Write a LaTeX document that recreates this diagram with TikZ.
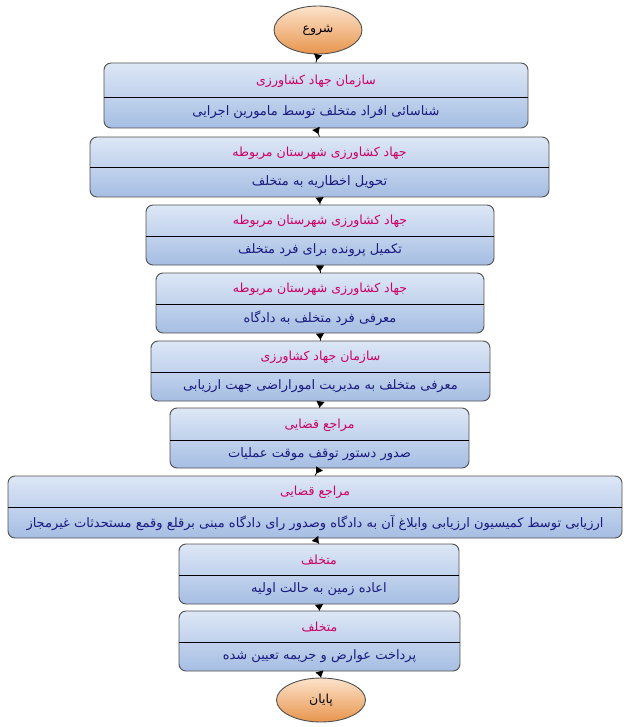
\documentclass[tikz,border=0pt]{standalone}
\usepackage{fontspec}
\usetikzlibrary{shapes.geometric,arrows.meta}
\TeXXeTstate=1
\newfontfamily\fa[Script=Arabic]{DejaVu Sans}
\definecolor{boxtop}{HTML}{DDE7F6}
\definecolor{boxbot}{HTML}{A6BEE3}
\definecolor{ttl}{HTML}{CC0066}
\definecolor{bdy}{HTML}{1A1A80}
\definecolor{ovtop}{HTML}{FCE3CB}
\definecolor{ovbot}{HTML}{E8954E}
\definecolor{edge}{HTML}{505050}
\tikzset{
  fbox/.style={draw=edge, line width=0.9pt, rounded corners=7pt, top color=boxtop, bottom color=boxbot, inner sep=0pt},
  oval/.style={ellipse, draw=edge, line width=0.9pt, top color=ovtop, bottom color=ovbot, inner sep=0pt, font=\fa\fontsize{12.5}{14}\selectfont},
  ttltext/.style={text=ttl, font=\fa\fontsize{12.5}{14}\selectfont, inner sep=0pt},
  bdytext/.style={text=bdy, font=\fa\fontsize{13}{15}\selectfont, inner sep=0pt},
  conn/.style={{Triangle[reversed,length=6pt,width=8pt]}-, line width=0.8pt, black},
}
% name, x1, y1, x2, y2, ydiv, title, body
\newcommand\flowbox[8]{%
  \node[fbox, minimum width={(#4-#2)*1pt}, minimum height={(#5-#3)*1pt}] (#1) at ({(#2+#4)/2},{(#3+#5)/2}) {};
  \draw[line width=0.8pt] ({#2},{#6}) -- ({#4},{#6});
  \node[ttltext] (#1t) at ({(#2+#4)/2},{(#3+#6)/2+1}) {#7};
  \node[bdytext] (#1b) at ({(#2+#4)/2},{(#6+#5)/2}) {#8};
}
\begin{document}
\begin{tikzpicture}[x=1pt,y=-1pt]
\useasboundingbox (0,0) rectangle (630,727);
\fill[white] (0,0) rectangle (630,727);
\node[oval, minimum width=88pt, minimum height=48pt] (start) at (318,30) {\beginR شروع\endR};
\flowbox{b1}{104}{63}{528}{128}{97}{\beginR سازمان جهاد کشاورزی\endR}{\beginR شناسائی افراد متخلف توسط مامورین اجرایی\endR}
\flowbox{b2}{90}{137}{549}{197}{167}{\beginR جهاد کشاورزی شهرستان مربوطه\endR}{\beginR تحویل اخطاریه به متخلف\endR}
\flowbox{b3}{146}{205}{494}{265}{236}{\beginR جهاد کشاورزی شهرستان مربوطه\endR}{\beginR تکمیل پرونده برای فرد متخلف\endR}
\flowbox{b4}{156}{273}{484}{333}{304}{\beginR جهاد کشاورزی شهرستان مربوطه\endR}{\beginR معرفی فرد متخلف به دادگاه\endR}
\flowbox{b5}{151}{341}{490}{401}{372}{\beginR سازمان جهاد کشاورزی\endR}{\beginR معرفی متخلف به مدیریت اموراراضی جهت ارزیابی\endR}
\flowbox{b6}{170}{408}{469}{468}{440}{\beginR مراجع قضایی\endR}{\beginR صدور دستور توقف موقت عملیات\endR}
\flowbox{b7}{8}{476}{622}{538}{507}{\beginR مراجع قضایی\endR}{\beginR ارزیابی توسط کمیسیون ارزیابی وابلاغ آن به دادگاه وصدور رای دادگاه مبنی برقلع وقمع مستحدثات غیرمجاز\endR}
\flowbox{b8}{179}{544}{459}{604}{575}{\beginR متخلف\endR}{\beginR اعاده زمین به حالت اولیه\endR}
\flowbox{b9}{179}{611}{460}{671}{642}{\beginR متخلف\endR}{\beginR پرداخت  عوارض و جریمه تعیین شده\endR}
\node[oval, minimum width=89pt, minimum height=44pt] (end) at (321,700) {\beginR پایان\endR};
\draw[conn] (start.south) -- (b1.north);
\draw[conn] (b1.south) -- (b2.north);
\draw[conn] (b2.south) -- (b3.north);
\draw[conn] (b3.south) -- (b4.north);
\draw[conn] (b4.south) -- (b5.north);
\draw[conn] (b5.south) -- (b6.north);
\draw[conn] (b6.south) -- (b7.north);
\draw[conn] (b7.south) -- (b8.north);
\draw[conn] (b8.south) -- (b9.north);
\draw[conn] (b9.south) -- (end.north);
\end{tikzpicture}
\end{document}
